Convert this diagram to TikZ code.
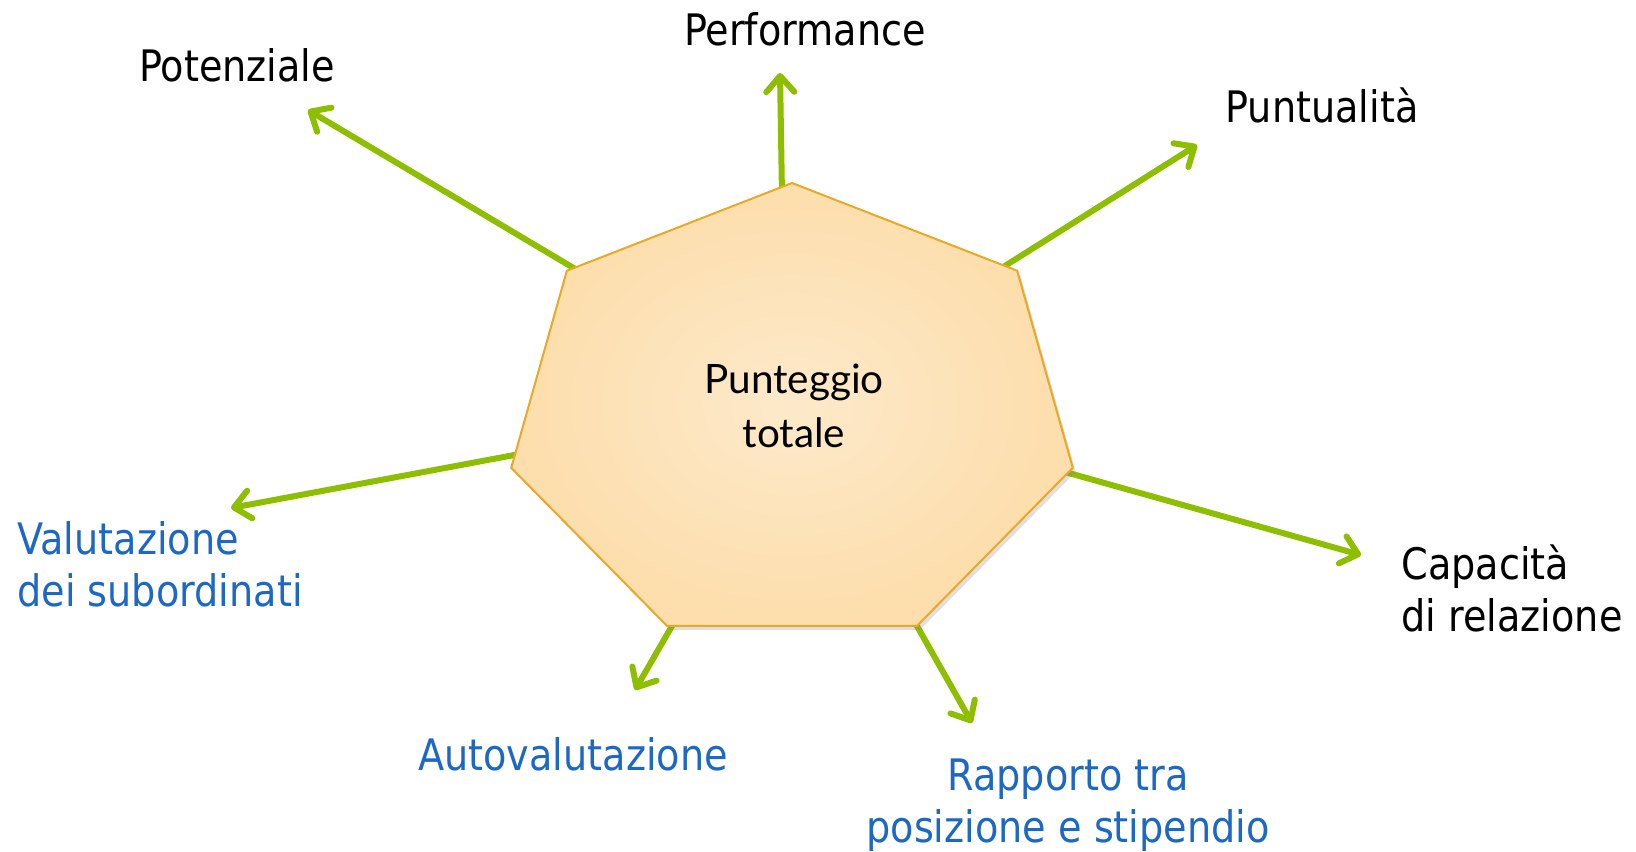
\documentclass[tikz,border=0pt]{standalone}
\usepackage{fontspec}
\setmainfont[FakeStretch=0.88]{DejaVu Sans}
\newfontfamily\centrefont{Lato}
\usetikzlibrary{arrows.meta, shadows}
\definecolor{arrowgreen}{RGB}{141,190,0}
\definecolor{labelblue}{RGB}{28,104,196}
\definecolor{heptinner}{RGB}{253,233,202}
\definecolor{heptouter}{RGB}{253,222,172}
\definecolor{heptline}{RGB}{233,168,40}

\begin{document}
\begin{tikzpicture}[x=0.5pt, y=-0.5pt,
    txt/.style={font=\fontsize{21.7pt}{26pt}\selectfont, inner sep=0pt},
    bluetxt/.style={text=labelblue},
    arr/.style={draw=arrowgreen, line width=3pt,
      -{Straight Barb[length=8pt, width=14pt, line cap=round, line join=round]}}]
  \useasboundingbox (0,0) rectangle (1636,851);

  % arrows: tail under the heptagon, tip towards the label
  \foreach \i/\ax/\ay/\bx/\by in {0/782/196/780/73, 1/1000/269/1197/145,
      2/1058/470/1361/555, 3/913/619/972/723, 4/676/619/635/690,
      5/525/453/231/508, 6/582/273/308/110} {
    \coordinate (a\i) at (\ax,\ay);
    \coordinate (b\i) at (\bx,\by);
  }
  \foreach \i in {0,...,6}
    \draw[arr] (a\i) -- (b\i);

  % heptagon
  \foreach \k in {0,...,6}
    \coordinate (v\k) at ({792+288*cos(90-\k*360/7)}, {416-233*sin(90-\k*360/7)});
  \path[draw=heptline, line width=1pt, inner color=heptinner, outer color=heptouter,
      drop shadow={opacity=0.25, shadow xshift=1.5pt, shadow yshift=-2pt}]
    (v0) -- (v1) -- (v2) -- (v3) -- (v4) -- (v5) -- (v6) -- cycle;
  \node[font=\centrefont\fontsize{20.25pt}{27pt}\selectfont, align=center, inner sep=0pt]
    (c0) at (794,406) {Punteggio\\totale};

  % labels
  \node[txt, anchor=base] (l0) at (805,45) {Performance};
  \node[txt, anchor=base] (l1) at (1322,122) {Puntualità};
  \node[txt, anchor=west, align=left] (l2) at (1401,588) {Capacità\\di relazione};
  \node[txt, bluetxt, align=center] (l3) at (1068,805) {Rapporto tra\\posizione e stipendio};
  \node[txt, bluetxt, anchor=base] (l4) at (573,770) {Autovalutazione};
  \node[txt, bluetxt, anchor=west, align=left] (l5) at (17,564) {Valutazione\\dei subordinati};
  \node[txt, anchor=base] (l6) at (237,81) {Potenziale};
\end{tikzpicture}
\end{document}
